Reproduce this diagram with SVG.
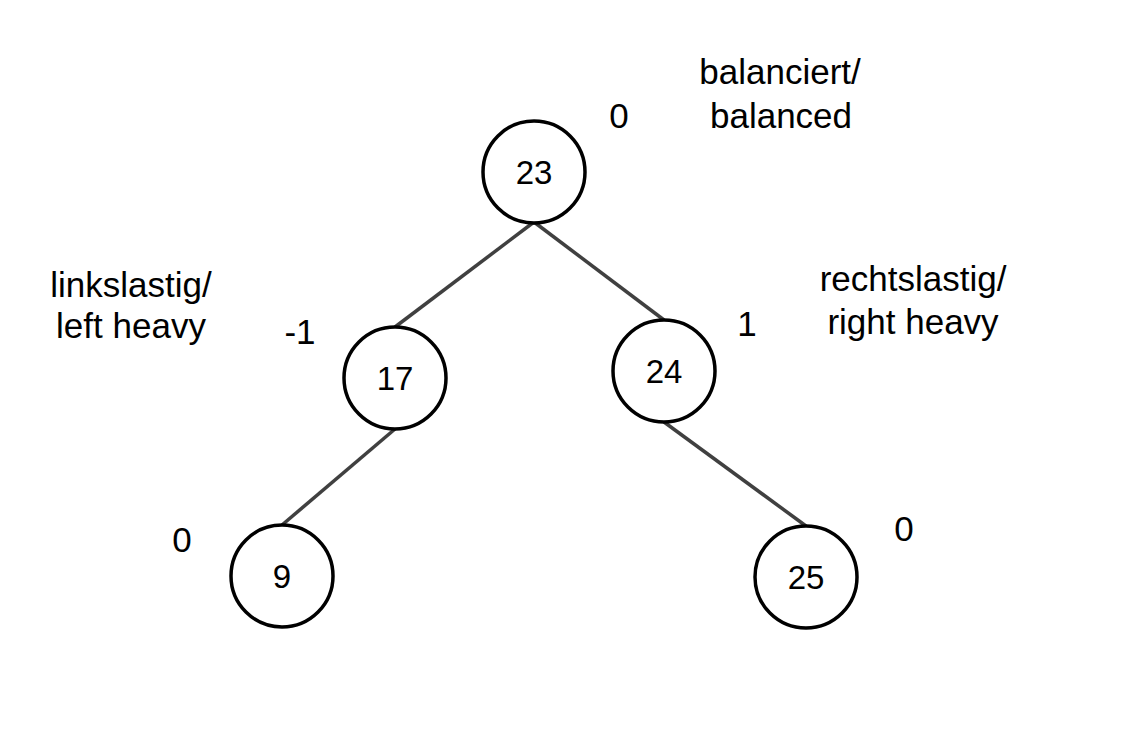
<svg xmlns="http://www.w3.org/2000/svg" width="1138" height="732" viewBox="0 0 1138 732">
  <style>
    .edge { stroke: #404040; stroke-width: 3.5; fill: none; }
    .node circle { fill: #ffffff; stroke: #000000; stroke-width: 3.5; }
    .node text { font-family: "Liberation Sans", Arial, sans-serif; font-size: 33px; text-anchor: middle; fill: #000; }
    .label { font-family: "Liberation Sans", Arial, sans-serif; font-size: 35px; text-anchor: middle; fill: #000; }
  </style>
  <rect width="1138" height="732" fill="#ffffff"/>

  <!-- tree edges -->
  <g id="edges">
    <line class="edge" x1="534" y1="222" x2="395" y2="327"/>
    <line class="edge" x1="534" y1="222" x2="664" y2="320"/>
    <line class="edge" x1="395" y1="429" x2="282" y2="525"/>
    <line class="edge" x1="664" y1="422" x2="806" y2="526"/>
  </g>

  <!-- tree nodes -->
  <g id="node-23" class="node">
    <circle cx="534" cy="172" r="51"/>
    <text x="534" y="184">23</text>
  </g>
  <g id="node-17" class="node">
    <circle cx="395" cy="378" r="51"/>
    <text x="395" y="390">17</text>
  </g>
  <g id="node-24" class="node">
    <circle cx="664" cy="371" r="51"/>
    <text x="664" y="383">24</text>
  </g>
  <g id="node-9" class="node">
    <circle cx="282" cy="576" r="51"/>
    <text x="282" y="588">9</text>
  </g>
  <g id="node-25" class="node">
    <circle cx="806" cy="577" r="51"/>
    <text x="806" y="589">25</text>
  </g>

  <!-- balance factors and annotations -->
  <g id="labels">
    <text class="label" x="619" y="128">0</text>
    <text class="label" x="780" y="84">balanciert/</text>
    <text class="label" x="781" y="128">balanced</text>

    <text class="label" x="131" y="297">linkslastig/</text>
    <text class="label" x="131" y="338">left heavy</text>
    <text class="label" x="300" y="344">-1</text>

    <text class="label" x="913" y="291">rechtslastig/</text>
    <text class="label" x="913" y="334">right heavy</text>
    <text class="label" x="747" y="336">1</text>

    <text class="label" x="182" y="552">0</text>
    <text class="label" x="904" y="541">0</text>
  </g>
</svg>
